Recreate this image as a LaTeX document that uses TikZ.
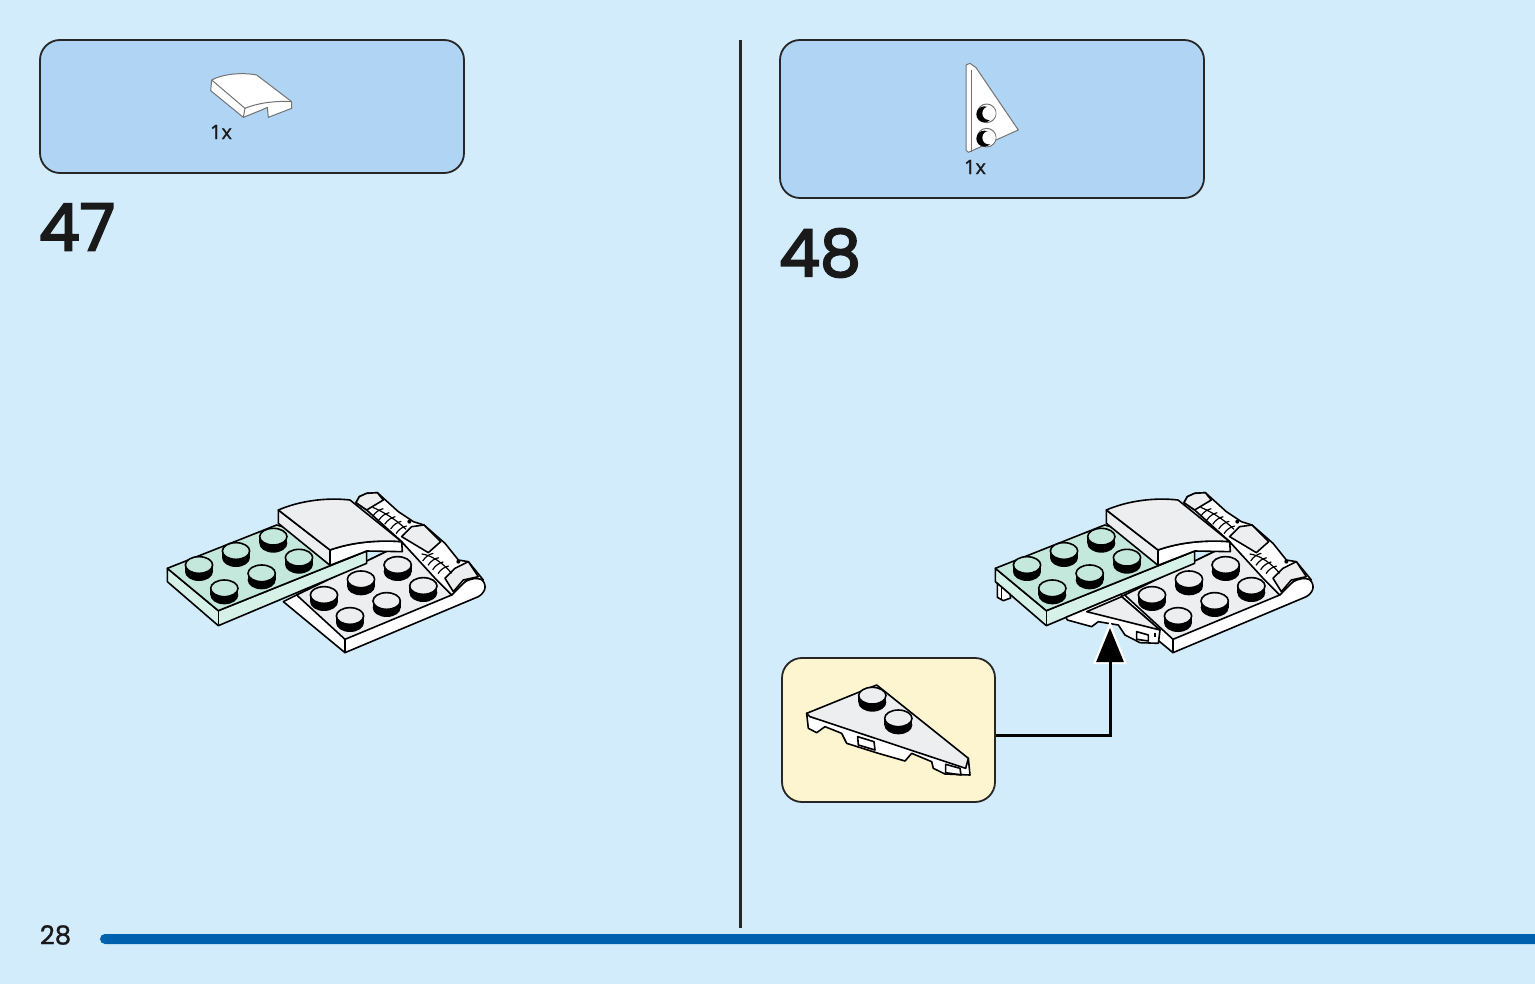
\documentclass[tikz,border=0pt]{standalone}
\usepackage{fontspec}
\setmainfont{Poppins}
\newfontfamily\stepfont[FakeBold=3]{Poppins}
\newfontfamily\pagefont[FakeBold=1]{Poppins}
\newfontfamily\countfont[FakeBold=1]{Open Sans}
\usetikzlibrary{shapes,shapes.misc,arrows.meta,positioning}
\definecolor{pagebg}{HTML}{D3ECFC}
\definecolor{panelblue}{HTML}{B0D5F4}
\definecolor{panelyellow}{HTML}{FDF5CF}
\definecolor{barblue}{HTML}{0061AE}
\definecolor{mint}{HTML}{C4E8DC}
\definecolor{mintside}{HTML}{D6F2E8}
\definecolor{brickgrey}{HTML}{ECEEF0}
\tikzstyle{panel} = [draw=black!85,line width=1.8pt,rounded corners=20pt,inner sep=0pt]
\tikzstyle{stepnum} = [font=\fontsize{65}{65}\selectfont\stepfont,inner sep=0pt,text=black!90]
\tikzstyle{count} = [font=\fontsize{20}{20}\selectfont\countfont,inner sep=0pt,text=black!90]
\tikzstyle{arrow} = [line width=3pt,-{Triangle[length=34pt,width=27pt]}]
\tikzstyle{brick} = [draw=black,line width=1.6pt,line join=round]
\tikzstyle{icon} = [draw=black!55,line width=1pt,line join=round,fill=white]
\tikzstyle{rib} = [draw=black,line width=1.2pt]
\newcommand{\stud}[3]{%
  \fill[black] (#1,#2+20) ellipse[x radius=42,y radius=28];
  \fill[black] (#1-42,#2) rectangle (#1+42,#2+20);
  \draw[brick,fill=#3] (#1,#2) ellipse[x radius=41,y radius=25];
}
\tikzset{
  assembly/.pic={
    \begin{scope}[scale=1/3]
      % white plate with hinge
      \draw[brick,fill=white] (400,365) -- (585,518) -- (985,350) .. controls (1010,335) and (1012,310) .. (990,295) -- (955,262) -- (920,300) -- (760,190) -- (440,345) -- cycle;
      \draw[brick,fill=brickgrey] (440,345) -- (585,478) -- (905,345) -- (760,190) -- cycle;
      \draw[brick] (585,478) -- (585,518);
      \draw[brick] (905,345) .. controls (925,320) and (945,295) .. (985,295);
      % hinge blocks and ribs
      \draw[brick,fill=white] (618,68) -- (628,50) -- (650,40) -- (682,38) -- (745,95) -- (790,125) -- (822,135) -- (885,190) -- (925,240) -- (955,245) -- (1000,300) -- (960,290) -- (905,345) -- (860,300) -- (755,185) -- (650,90) -- cycle;
      \draw[brick,fill=brickgrey] (618,68) -- (650,90) -- (700,60) -- (682,38) -- (650,40) -- (628,50) -- cycle;
      \draw[brick,fill=brickgrey] (755,170) -- (785,140) -- (822,135) -- (872,185) -- (835,218) -- cycle;
      \draw[brick,fill=brickgrey] (885,295) -- (915,265) -- (955,245) -- (985,290) -- (940,300) -- (910,335) -- cycle;
      \foreach \x/\y in {682/98,700/110,718/122,736/136,752/150,832/232,848/245,862/258,878/270}
        {\draw[rib] (\x-14,\y+11) .. controls (\x-5,\y-3) and (\x+6,\y-9) .. (\x+18,\y-12);}
      \draw[rib] (668,82) .. controls (700,95) and (740,120) .. (768,148);
      \draw[rib] (815,222) .. controls (845,225) and (880,250) .. (905,280);
      \foreach \x/\y in {778/125,925/245}
        {\fill[black] (\x,\y) circle[radius=6];}
      \foreach \x/\y in {522/345,633/298,743/255,600/408,710/363,820/318}
        {\stud{\x}{\y}{brickgrey}}
      % mint plate
      \draw[brick,fill=mintside] (52,265) -- (205,392) -- (650,213) -- (650,250) -- (205,437) -- (52,305) -- cycle;
      \draw[brick,fill=mint] (52,265) -- (380,135) -- (650,213) -- (205,392) -- cycle;
      \draw[brick] (205,392) -- (205,437);
      % curved tile
      \draw[brick,fill=white] (540,210) .. controls (610,185) and (690,180) .. (755,185) -- (757,215) -- (650,213) -- (540,256) -- cycle;
      \draw[brick,fill=brickgrey] (385,90) -- (540,210) -- (540,256) -- (385,130) -- cycle;
      \draw[brick,fill=brickgrey] (385,90) .. controls (450,62) and (530,52) .. (600,60) -- (755,185) .. controls (690,180) and (610,185) .. (540,210) -- cycle;
      \foreach \x/\y in {147/255,258/213,370/170,223/325,335/280,447/233}
        {\stud{\x}{\y}{mint}}
    \end{scope}
  }
}
\begin{document}
\begin{tikzpicture}[x=1pt,y=-1pt]
  \useasboundingbox (0,0) rectangle (1535,984);
  \fill[pagebg] (0,0) rectangle (1535,984);

  \node[panel,fill=panelblue,minimum width=424pt,minimum height=133pt] (parts47) at (252,106.5) {};
  \node[panel,fill=panelblue,minimum width=424pt,minimum height=158pt] (parts48) at (992,119) {};
  \node[panel,fill=panelyellow,minimum width=213pt,minimum height=144pt] (detail) at (888.5,730) {};

  \node[stepnum] (step47) at (77,227) {47};
  \node[stepnum] (step48) at (820,253) {48};
  \node[count] (count47) at (221,132) {1x};
  \node[count] (count48) at (975,167) {1x};
  \node[font=\fontsize{26}{26}\selectfont\pagefont,inner sep=0pt,text=black!90] (pagenum) at (55.5,935) {28};

  \coordinate (dividetop) at (740,40);
  \coordinate (dividebot) at (740,928);
  \draw[black!85,line width=3pt] (dividetop) -- (dividebot);
  \node[rounded rectangle,rounded rectangle right arc=none,fill=barblue,inner sep=0pt,minimum width=1435pt,minimum height=10pt] (pagebar) at (817.5,939) {};

  % parts list pieces
  \begin{scope}[shift={(190,60)},scale=1/3]
    \draw[icon] (65,60) .. controls (90,45) and (150,35) .. (200,45) -- (305,125) -- (305,145) -- (235,172) -- (232,142) -- (215,150) -- (160,172) -- (62,92) -- cycle;
    \draw[icon] (65,60) -- (165,145) .. controls (205,128) and (260,122) .. (305,125);
    \draw[icon] (165,145) -- (160,172);
  \end{scope}
  \begin{scope}[shift={(940,55)},scale=1/3]
    \draw[icon] (78,30) -- (90,25) -- (108,38) -- (235,225) -- (85,292) -- (78,285) -- cycle;
    \draw[icon] (95,45) -- (95,290);
    \draw[icon] (140,175) circle[radius=28];
    \draw[icon] (140,248) circle[radius=28];
    \fill[black] (133,178) circle[radius=24];
    \fill[black] (133,251) circle[radius=24];
    \fill[white] (147,175) circle[radius=20];
    \fill[white] (147,248) circle[radius=20];
  \end{scope}

  \pic (model47) at (150,480) {assembly};
  \pic (model48) at (978,480) {assembly};

  % wedge under the model in step 48
  \begin{scope}[shift={(980,480)},scale=1/3]
    \draw[brick,fill=white] (52,310) -- (52,352) -- (70,362) -- (92,354) -- (90,343) -- cycle;
    \draw[brick] (64,320) -- (64,358);
    \draw[brick,fill=white] (258,412) -- (262,420) -- (335,440) -- (355,425) -- (415,435) -- (435,465) -- (480,488) -- (535,490) -- (540,450) -- (425,350) -- (425,342) -- cycle;
    \draw[brick,fill=brickgrey] (320,395) -- (425,350) -- (540,450) -- cycle;
    \draw[brick] (470,455) -- (505,465) -- (505,483) -- (470,478) -- cycle;
    \draw[brick] (525,458) -- (525,470);
  \end{scope}

  % wedge in the detail box
  \begin{scope}[shift={(775,650)},scale=1/3]
    \draw[brick,fill=white] (95,190) -- (100,235) -- (125,248) -- (150,230) -- (200,250) -- (215,280) -- (310,310) -- (390,333) -- (410,310) -- (470,335) -- (475,355) -- (510,372) -- (585,375) -- (580,325) -- cycle;
    \draw[brick,fill=brickgrey] (95,190) -- (305,105) -- (580,325) -- (572,355) -- (105,200) -- cycle;
    \draw[brick] (248,260) -- (297,275) -- (300,300) -- (250,285) -- cycle;
    \draw[brick] (512,343) -- (555,355) -- (558,375) -- (512,368) -- cycle;
    \stud{292}{137}{brickgrey}
    \stud{370}{205}{brickgrey}
  \end{scope}

  \coordinate (bend) at (1110,735);
  \coordinate (arrowtip) at (1110,628);
  \fill[white] (1110,621) -- (1127,664) -- (1093,664) -- cycle;
  \draw[arrow] (detail.east |- bend) -- (bend) -- (arrowtip);
\end{tikzpicture}
\end{document}
